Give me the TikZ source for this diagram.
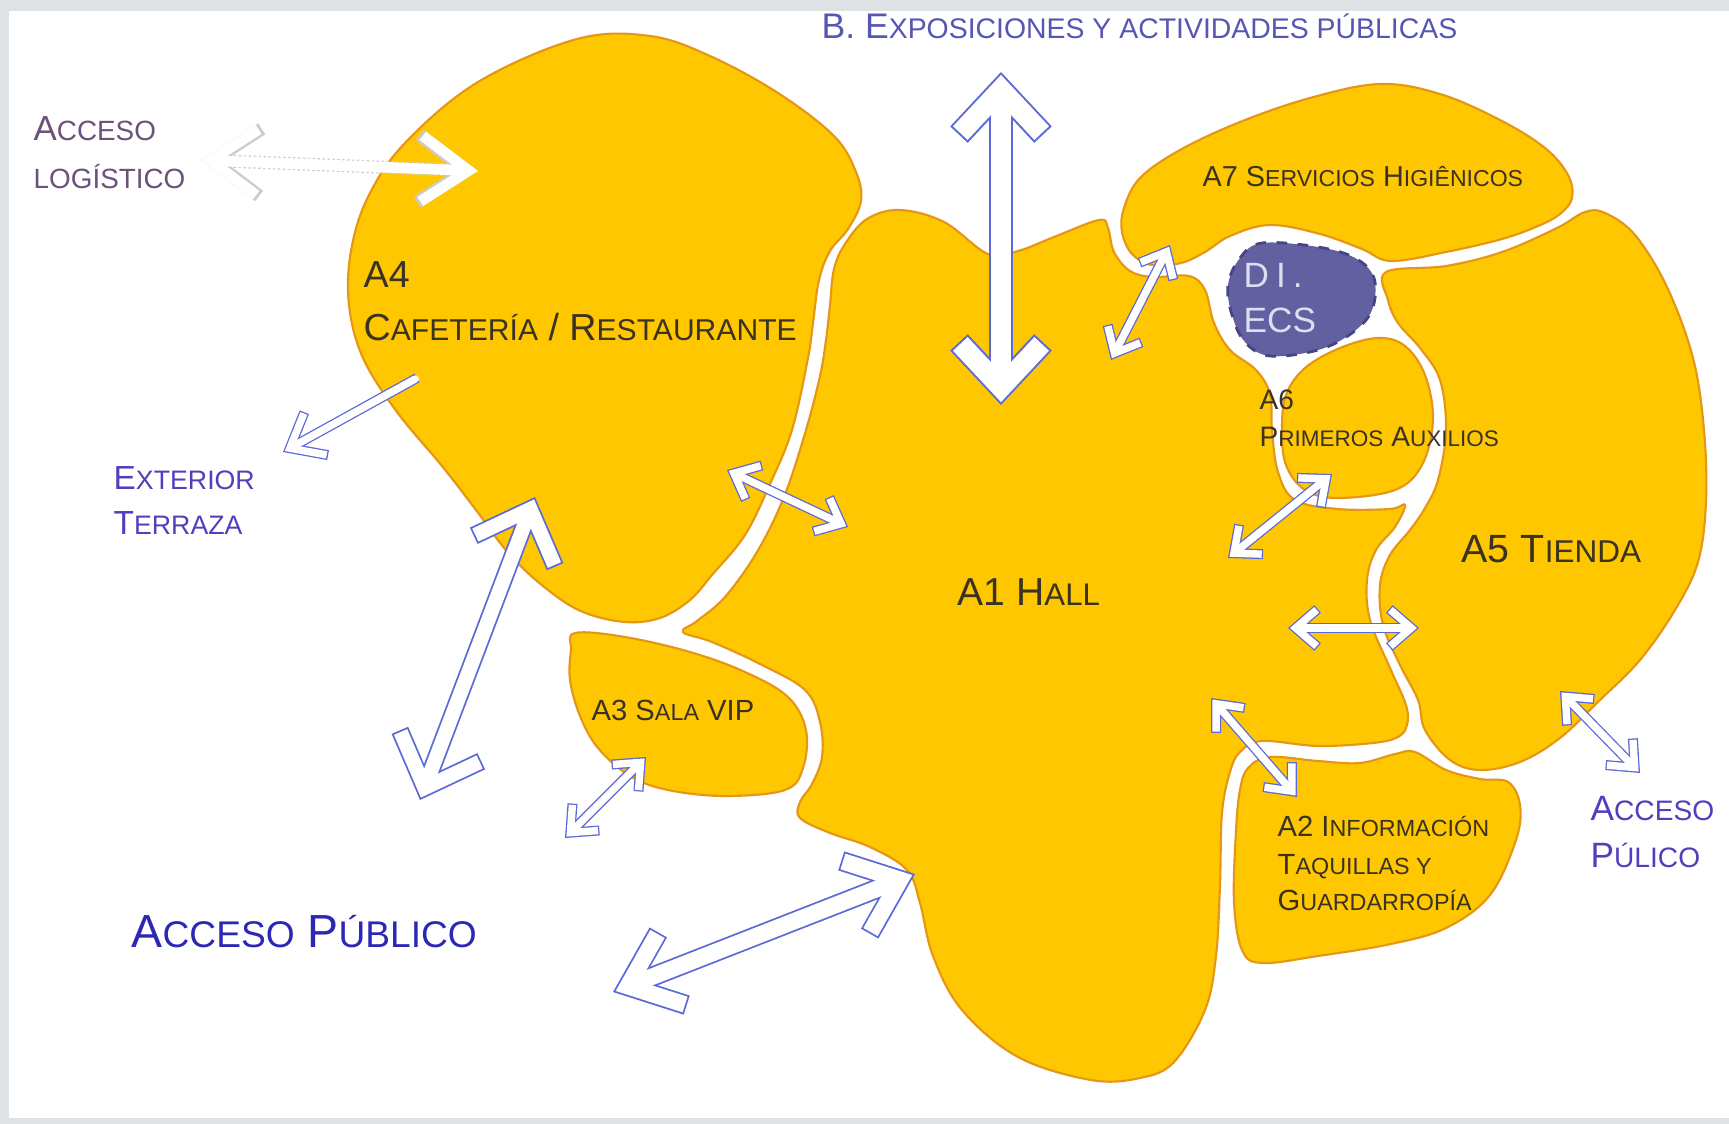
\documentclass[tikz,border=0pt]{standalone}
\usepackage{fontspec}
\setmainfont{Liberation Sans}
\usepackage{graphicx}
\usetikzlibrary{arrows.meta}
\definecolor{blobfill}{RGB}{255,199,0}
\definecolor{blobline}{RGB}{228,150,20}
\definecolor{ecsfill}{RGB}{98,96,160}
\definecolor{ecsline}{RGB}{70,68,135}
\definecolor{ecstext}{RGB}{222,222,240}
\definecolor{arrowblue}{RGB}{92,106,216}
\definecolor{areatext}{RGB}{58,50,34}
\definecolor{extblue}{RGB}{80,64,190}
\definecolor{pubblue}{RGB}{44,40,180}
\definecolor{logpurple}{RGB}{108,82,122}
\definecolor{expblue}{RGB}{86,86,180}
\definecolor{framegray}{RGB}{222,226,229}
\newcommand{\lo}[1]{\scalebox{0.8}{#1}}

\begin{document}
\begin{tikzpicture}[x=0.01cm, y=-0.01cm,
  blob/.style={draw=blobline, fill=blobfill, line width=0.6pt},
  ExpOut/.tip={Straight Barb[sharp, length=4.5mm, width=8.4mm]},
  ExpIn/.tip={Straight Barb[sharp, length=4.35mm, width=8.13mm]},
  CafeOut/.tip={Straight Barb[sharp, length=4.5mm, width=8.7mm]},
  CafeIn/.tip={Straight Barb[sharp, length=4.37mm, width=8.45mm]},
  HallOut/.tip={Straight Barb[sharp, length=4.8mm, width=7.8mm]},
  HallIn/.tip={Straight Barb[sharp, length=4.66mm, width=7.57mm]},
  LogOut/.tip={Straight Barb[sharp, length=4.8mm, width=6.7mm]},
  LogIn/.tip={Straight Barb[sharp, length=4.7mm, width=6.56mm]},
  TerOut/.tip={Straight Barb[sharp, length=3.0mm, width=4.9mm]},
  TerIn/.tip={Straight Barb[sharp, length=2.9mm, width=4.73mm]},
  SmOut/.tip={Straight Barb[sharp, length=2.2mm, width=3.8mm]},
  SmIn/.tip={Straight Barb[sharp, length=2.1mm, width=3.63mm]},
  flow/.style n args={5}{preaction={draw=arrowblue, line width=#1, shorten <=0pt, shorten >=0pt, arrows={#3}},
    draw=white, line width=#2, shorten <=#5, shorten >=#5, arrows={#4}},
  smallflow/.style={flow={1.0mm}{0.74mm}{SmOut-SmOut}{SmIn-SmIn}{0.2mm}},
  area/.style={text=areatext, inner sep=0pt, anchor=base west},
  outside/.style={inner sep=0pt, anchor=base west}]
  \fill [framegray] (0,0) rectangle (1729,1124);
  \fill [white] (9,11) rectangle (1729,1118);

  \filldraw [blob] plot [smooth cycle, tension=0.6] coordinates {(577,39) (650,36) (710,56) (778,93) (834,136) (856,172) (861,201) (848,229) (830,251) (819,280) (813,323) (808,358) (792,430) (770,484) (745,535) (712,575) (690,600) (660,618) (625,622) (583,612) (548,590) (510,555) (476,510) (442,466) (397,412) (363,358) (349,305) (351,251) (368,197) (405,143) (478,82)};
  \filldraw [blob] plot [smooth cycle, tension=0.6] coordinates {(867,219) (900,210) (944,222) (988,254) (1018,251) (1054,237) (1099,220) (1108,228) (1114,252) (1130,271) (1153,277) (1189,276) (1205,290) (1214,323) (1230,350) (1256,370) (1270,394) (1272,430) (1278,472) (1295,500) (1338,509) (1390,509) (1405,505) (1395,527) (1376,550) (1367,580) (1370,620) (1390,668) (1406,705) (1407,725) (1398,737) (1373,743) (1318,746) (1262,741) (1240,752) (1230,772) (1222,813) (1220,885) (1216,956) (1205,1010) (1174,1062) (1140,1078) (1091,1080) (1018,1057) (962,1010) (933,956) (920,903) (907,870) (870,847) (830,833) (800,818) (800,802) (812,784) (822,757) (820,722) (805,690) (760,664) (712,642) (683,632) (697,621) (725,597) (757,552) (784,497) (806,430) (820,376) (826,340) (830,305) (834,269) (845,244)};
  \filldraw [blob] plot [smooth cycle, tension=0.6] coordinates {(575,633) (625,637) (690,652) (745,672) (788,697) (806,730) (803,768) (785,790) (725,796) (668,790) (630,776) (598,748) (580,716) (570,680) (571,650)};
  \filldraw [blob] plot [smooth cycle, tension=0.6] coordinates {(1124,208) (1140,178) (1180,150) (1240,122) (1310,98) (1380,84) (1440,94) (1500,120) (1545,148) (1568,175) (1572,198) (1560,214) (1538,226) (1502,239) (1446,252) (1391,261) (1362,249) (1320,234) (1270,225) (1230,236) (1205,252) (1181,263) (1152,265) (1132,254) (1122,232)};
  \filldraw [blob] plot [smooth cycle, tension=0.6] coordinates {(1386,272) (1446,266) (1502,252) (1557,228) (1585,212) (1605,213) (1635,235) (1667,287) (1693,358) (1704,430) (1706,502) (1698,562) (1675,610) (1640,660) (1600,700) (1560,738) (1520,762) (1480,770) (1450,760) (1425,730) (1418,700) (1400,665) (1383,625) (1380,585) (1390,555) (1410,530) (1425,508) (1438,480) (1446,430) (1440,380) (1420,348) (1398,323) (1388,300)};
  \filldraw [blob] plot [smooth cycle, tension=0.6] coordinates {(1378,338) (1405,346) (1425,375) (1433,420) (1422,465) (1395,490) (1338,498) (1305,490) (1286,465) (1282,430) (1286,395) (1305,368) (1340,348)};
  \filldraw [blob] plot [smooth cycle, tension=0.6] coordinates {(1240,790) (1248,768) (1270,757) (1318,761) (1360,763) (1395,754) (1415,752) (1446,770) (1480,779) (1508,782) (1520,805) (1516,840) (1490,895) (1446,928) (1391,944) (1318,956) (1262,963) (1242,950) (1234,902) (1236,831)};
  \filldraw [fill=ecsfill, draw=ecsline, line width=0.8pt, dashed] plot [smooth cycle, tension=0.6] coordinates {(1228,285) (1240,258) (1262,243) (1318,247) (1355,258) (1374,278) (1372,310) (1352,333) (1318,350) (1270,356) (1245,342) (1232,315)};

  \coordinate (log1) at (199,160);
  \coordinate (log2) at (480,171);
  \coordinate (exp1) at (1001,72);
  \coordinate (exp2) at (1001,405);
  \coordinate (ter1) at (417,378);
  \coordinate (ter2) at (283,452);
  \coordinate (cafe1) at (535,497);
  \coordinate (cafe2) at (420,800);
  \coordinate (hall1) at (915,874);
  \coordinate (hall2) at (613,992);
  \coordinate (ca1) at (727,470);
  \coordinate (ca2) at (848,527);
  \coordinate (ha1) at (1170,245);
  \coordinate (ha2) at (1111,360);
  \coordinate (hb1) at (1332,474);
  \coordinate (hb2) at (1228,558);
  \coordinate (hc1) at (1288,628);
  \coordinate (hc2) at (1419,628);
  \coordinate (hd1) at (1211,698);
  \coordinate (hd2) at (1297,797);
  \coordinate (ti1) at (1560,691);
  \coordinate (ti2) at (1640,773);
  \coordinate (vip1) at (646,757);
  \coordinate (vip2) at (565,838);

  \draw [preaction={draw=gray!40, line width=1.3mm, dash pattern=on 0.7pt off 0.7pt, arrows={LogOut-LogOut}},
    draw=white, line width=1.06mm, shorten <=0.21mm, shorten >=0.21mm, arrows={LogIn-LogIn}] (log1) -- (log2);
  \draw [flow={2.4mm}{2.0mm}{ExpOut-ExpOut}{ExpIn-ExpIn}{0.29mm}] (exp1) -- (exp2);
  \draw [flow={1.0mm}{0.74mm}{-TerOut}{-TerIn}{0.2mm}, line cap=round] (ter1) -- (ter2);
  \draw [flow={1.8mm}{1.44mm}{CafeOut-CafeOut}{CafeIn-CafeIn}{0.26mm}] (cafe1) -- (cafe2);
  \draw [flow={2.0mm}{1.64mm}{HallOut-HallOut}{HallIn-HallIn}{0.29mm}] (hall1) -- (hall2);
  \draw [smallflow] (ca1) -- (ca2);
  \draw [smallflow] (ha1) -- (ha2);
  \draw [smallflow] (hb1) -- (hb2);
  \draw [smallflow] (hc1) -- (hc2);
  \draw [smallflow] (hd1) -- (hd2);
  \draw [smallflow] (ti1) -- (ti2);
  \draw [smallflow] (vip1) -- (vip2);

  \node [outside, text=expblue, font=\fontsize{10.1}{12}\selectfont] (expo) at (821,38) {B. E\lo{XPOSICIONES Y ACTIVIDADES PÚBLICAS}};
  \node [outside, text=logpurple, font=\fontsize{9.9}{12}\selectfont] (log) at (33,140) {A\lo{CCESO}};
  \node [outside, text=logpurple, font=\fontsize{9.9}{12}\selectfont] (logb) at (33,188) {\lo{LOGÍSTICO}};
  \node [outside, text=extblue, font=\fontsize{9.5}{12}\selectfont] (ext) at (113,489) {E\lo{XTERIOR}};
  \node [outside, text=extblue, font=\fontsize{9.5}{12}\selectfont] (extb) at (113,534) {T\lo{ERRAZA}};
  \node [outside, text=pubblue, font=\fontsize{13.2}{16}\selectfont] (pub) at (131,947) {A\lo{CCESO} P\lo{ÚBLICO}};
  \node [outside, text=extblue, font=\fontsize{10}{12}\selectfont] (pubr) at (1590,820) {A\lo{CCESO}};
  \node [outside, text=extblue, font=\fontsize{10}{12}\selectfont] (pubrb) at (1590,867) {P\lo{ÚLICO}};

  \node [area, font=\fontsize{10.7}{13}\selectfont] (cafe) at (363,287) {A4};
  \node [area, font=\fontsize{10.7}{13}\selectfont] (cafeb) at (363,340) {C\lo{AFETERÍA} / R\lo{ESTAURANTE}};
  \node [area, font=\fontsize{8.2}{10}\selectfont] (serv) at (1202,186) {A7 S\lo{ERVICIOS} H\lo{IGIÊNICOS}};
  \node [area, text=ecstext, font=\fontsize{10}{12}\selectfont] (ecs) at (1243,287) {D\kern2pt I\kern2pt .};
  \node [area, text=ecstext, font=\fontsize{10}{12}\selectfont] (ecsb) at (1243,332) {ECS};
  \node [area, font=\fontsize{8}{10}\selectfont] (aux) at (1259,409) {A6};
  \node [area, font=\fontsize{8}{10}\selectfont] (auxb) at (1259,446) {P\lo{RIMEROS} A\lo{UXILIOS}};
  \node [area, font=\fontsize{11.2}{13}\selectfont] (shop) at (1461,562) {A5 T\lo{IENDA}};
  \node [area, font=\fontsize{11.1}{13}\selectfont] (hall) at (957,605) {A1 H\lo{ALL}};
  \node [area, font=\fontsize{8.3}{10}\selectfont] (vip) at (591,720) {A3 S\lo{ALA} VIP};
  \node [area, font=\fontsize{8.3}{10}\selectfont] (info) at (1277,836) {A2 I\lo{NFORMACIÓN}};
  \node [area, font=\fontsize{8.3}{10}\selectfont] (infob) at (1277,874) {T\lo{AQUILLAS Y}};
  \node [area, font=\fontsize{8.3}{10}\selectfont] (infoc) at (1277,910) {G\lo{UARDARROPÍA}};
\end{tikzpicture}
\end{document}
